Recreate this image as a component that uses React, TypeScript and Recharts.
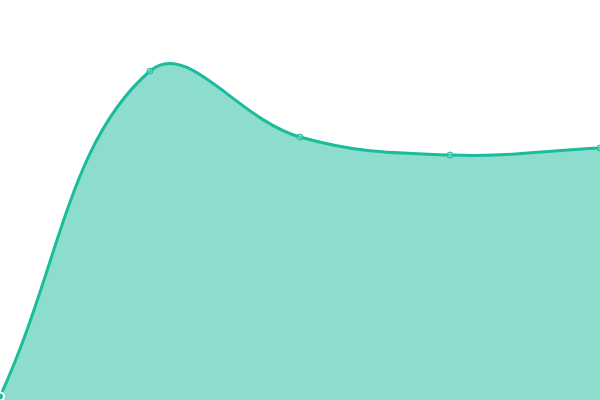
import { Area, AreaChart, XAxis, YAxis } from "recharts";

const TEAL = "#1abc9c";

const labels = ["A", "B", "C", "D", "E"];
const values = [3.5, 329, 263, 245, 252];

const data = labels.map((name, i) => ({ name, value: values[i] }));

// spline with tension 0.4 (control points scaled by neighbour distances)
function splineCurve(context: any) {
  let pts: number[][] = [];
  let line = NaN;
  const T = 0.4;

  const draw = () => {
    const n = pts.length;
    if (!n) return;
    const cps = pts.map((cur, i) => {
      const prev = pts[i - 1] || cur;
      const next = pts[i + 1] || cur;
      const d01 = Math.hypot(cur[0] - prev[0], cur[1] - prev[1]);
      const d12 = Math.hypot(next[0] - cur[0], next[1] - cur[1]);
      let s01 = d01 / (d01 + d12);
      let s12 = d12 / (d01 + d12);
      if (isNaN(s01)) s01 = 0;
      if (isNaN(s12)) s12 = 0;
      const fa = T * s01;
      const fb = T * s12;
      return {
        in: [cur[0] - fa * (next[0] - prev[0]), cur[1] - fa * (next[1] - prev[1])],
        out: [cur[0] + fb * (next[0] - prev[0]), cur[1] + fb * (next[1] - prev[1])],
      };
    });
    if (line === 1) context.lineTo(pts[0][0], pts[0][1]);
    else context.moveTo(pts[0][0], pts[0][1]);
    for (let i = 1; i < n; i++) {
      const a = cps[i - 1].out;
      const b = cps[i].in;
      context.bezierCurveTo(a[0], a[1], b[0], b[1], pts[i][0], pts[i][1]);
    }
  };

  return {
    areaStart() {
      line = 0;
    },
    areaEnd() {
      line = NaN;
    },
    lineStart() {
      pts = [];
    },
    lineEnd() {
      draw();
      if (line || (line !== 0 && pts.length === 1)) context.closePath();
      line = 1 - line;
    },
    point(x: number, y: number) {
      pts.push([+x, +y]);
    },
  };
}

export default function App() {
  return (
    <div style={{ position: "fixed", top: 0, left: 0, width: 600, height: 400, background: "#fff" }}>
      <AreaChart width={600} height={400} data={data} margin={{ top: 0, right: 0, left: 0, bottom: 0 }}>
        <XAxis dataKey="name" hide />
        <YAxis hide domain={[0, 400]} />
        <Area
          type={splineCurve as any}
          dataKey="value"
          stroke={TEAL}
          strokeWidth={3}
          fill={TEAL}
          fillOpacity={0.5}
          dot={{ r: 3, fill: "#7fd8c6", stroke: TEAL, strokeWidth: 1 }}
          isAnimationActive={false}
        />
      </AreaChart>
    </div>
  );
}
